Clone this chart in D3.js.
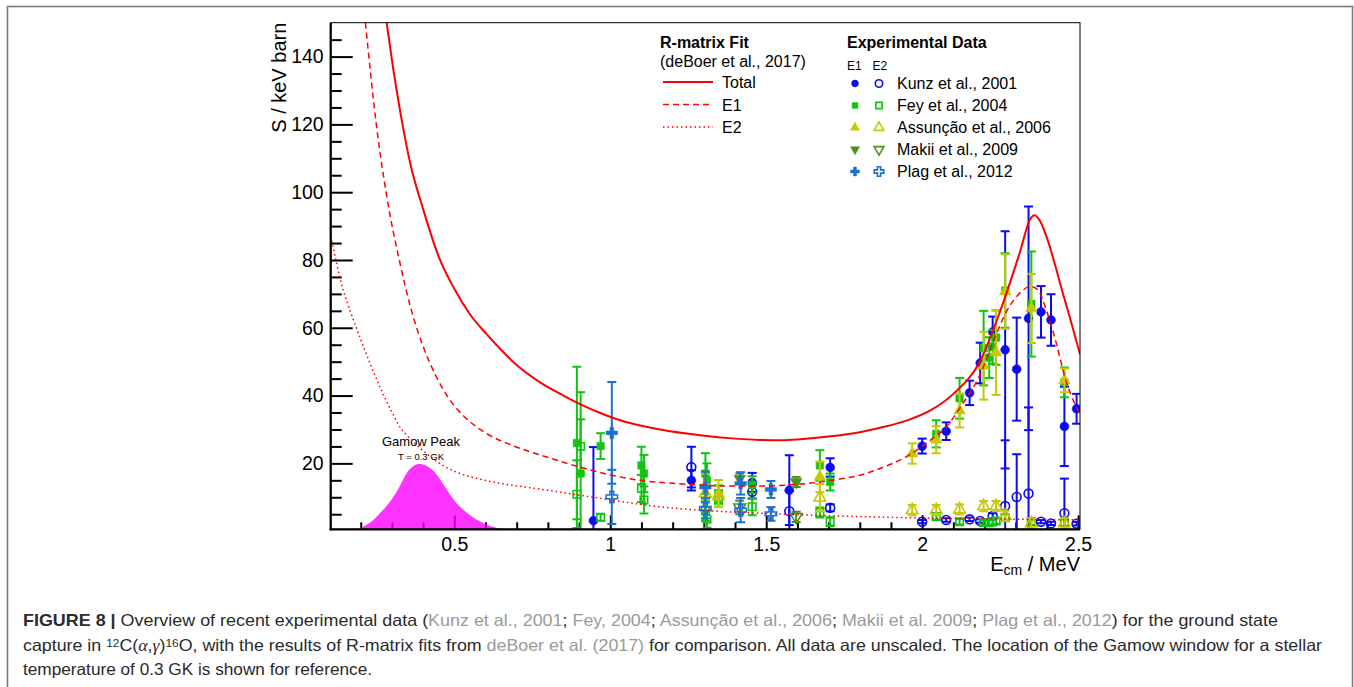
<!DOCTYPE html>
<html>
<head>
<meta charset="utf-8">
<script src="https://cdn.jsdelivr.net/npm/d3@7"></script>
<style>
body { margin: 0; background: #fff; }
svg text { font-family: "Liberation Sans", Arial, Helvetica, sans-serif; }
</style>
</head>
<body>
<div class="chart-container"></div>
<script>
// ---- R-matrix fit curves (deBoer et al., 2017), E in MeV, S in keV b ----
const totalE = [0.283, 0.30, 0.33, 0.36, 0.40, 0.45, 0.50, 0.55, 0.60, 0.65, 0.70, 0.775, 0.85, 0.903, 0.97, 1.05, 1.16, 1.288, 1.40, 1.48, 1.55, 1.61, 1.70, 1.80, 1.865, 1.95, 2.026, 2.10, 2.186, 2.25, 2.314, 2.346, 2.36, 2.378, 2.40, 2.426, 2.45, 2.474, 2.506];
const totalS = [150, 139, 122, 108, 95, 81, 71.5, 64, 58.5, 53.5, 49, 43.9, 40, 37.5, 34.8, 32.2, 30, 28.3, 27.3, 26.9, 26.8, 27.1, 27.9, 29.2, 30.5, 32.6, 35.6, 40.5, 50.2, 64.9, 82.5, 92, 93.2, 91.5, 86.5, 78.6, 70.5, 62.9, 52.2];

const e1E = [0.215, 0.25, 0.283, 0.326, 0.36, 0.40, 0.44, 0.48, 0.53, 0.60, 0.68, 0.775, 0.903, 1.0, 1.095, 1.2, 1.288, 1.40, 1.48, 1.58, 1.673, 1.75, 1.80, 1.865, 1.95, 2.026, 2.08, 2.122, 2.186, 2.229, 2.271, 2.314, 2.346, 2.37, 2.399, 2.431, 2.458, 2.495, 2.506];
const e1S = [150, 120, 99, 79, 66, 54.5, 46, 39.5, 34, 29, 25.5, 22.5, 18.9, 16.6, 15, 14.1, 13.6, 13.3, 13.3, 13.7, 14.5, 15.6, 16.5, 18.5, 22, 26.8, 31, 36.5, 46.3, 56.1, 64.9, 70.3, 72.2, 71.3, 65, 55.1, 45.3, 36.5, 34.5];

const e2E = [0.104, 0.142, 0.17, 0.198, 0.23, 0.262, 0.295, 0.326, 0.37, 0.411, 0.46, 0.518, 0.58, 0.647, 0.72, 0.775, 0.84, 0.903, 0.968, 1.06, 1.16, 1.30, 1.48, 1.65, 1.80, 2.0, 2.25, 2.506];
const e2S = [87, 71.7, 64, 57, 49.5, 42.4, 36, 30.7, 26.3, 22.9, 19.6, 17, 15.4, 14.1, 13.1, 12.4, 11.5, 10.6, 9.7, 8.4, 7.2, 6.1, 5.3, 4.7, 4.3, 3.9, 3.6, 3.3];

// ---- Gamow peak, T = 0.3 GK (arbitrary height) ----
const gamowE = [0.19, 0.23, 0.251, 0.28, 0.305, 0.33, 0.347, 0.37, 0.388, 0.41, 0.433, 0.455, 0.476, 0.50, 0.518, 0.545, 0.572, 0.60, 0.625, 0.66, 0.70];
const gamowS = [0, 2.3, 4.3, 7, 10, 14, 17.5, 19.5, 20, 19.5, 18, 15.3, 12.1, 9, 7.2, 5, 3.3, 2.1, 1.2, 0.5, 0];

// ---- Experimental data: energy, E1 (+err), E2 (+err) ----
const kunzE = [0.946, 1.26, 1.455, 1.574, 1.705, 2.0, 2.077, 2.152, 2.186, 2.226, 2.266, 2.303, 2.341, 2.381, 2.413, 2.456, 2.495];
const kunzE1 = [3.1, 15, 14.4, 12.1, 18.8, 25.1, 29.5, 40.8, 49.6, 58.8, 53.5, 47.8, 62.8, 64.7, 62.3, 30.9, 36.1];
const kunzE1Err = [21.7, 3, 2.8, 10.3, 2.7, 2.2, 2.6, 3.6, 6, 4.5, 35, 15.2, 33, 7.6, 7.6, 11.7, 4.4];
const kunzE2 = [null, 18.9, 11.6, 5.9, 6.9, 2.8, 3.3, 3.5, 3.0, 4.5, 7.4, 10.1, 11.1, 2.8, 2.3, 5.3, 2.2];
const kunzE2Err = [null, 6, 2, 6, 1, 0.5, 0.5, 0.5, 0.5, 0.8, 19.4, 12.6, 25.4, 0.5, 0.5, 10.2, 0.5];

const feyE = [0.893, 0.905, 0.969, 1.10, 1.108, 1.305, 1.31, 1.347, 1.455, 1.672, 1.705, 2.045, 2.12, 2.197, 2.215, 2.226, 2.237, 2.266, 2.35, 2.456];
const feyE1 = [26, 17, 25.1, 19.4, 17, 17, 15, 11, 13.7, 19.4, 14.5, 28.7, 39.2, 54, 51.2, 54.4, 57.1, 71, 67, 43.9];
const feyE1Err = [22.5, 24, 3.8, 5.5, 5.5, 6, 5, 2.5, 2.5, 4.5, 2.5, 4, 6, 11, 6, 5, 8, 11, 15.5, 4.4];
const feyE2 = [10.9, 25, 4.1, 12.6, 9.2, 6, 3.5, 10.1, 7.2, 5.5, 2.8, 4.3, 2.8, 2.5, 2.5, 2.7, 3, 4, 2.8, 2.5];
const feyE2Err = [10, 8, 1, 4, 4, 3, 2.5, 2, 2.5, 1.5, 1.3, 1, 0.8, 0.8, 0.8, 0.8, 0.8, 1, 1, 1];

const assuncaoE = [1.305, 1.347, 1.672, 1.968, 2.045, 2.12, 2.197, 2.237, 2.266, 2.35, 2.456];
const assuncaoE1 = [13.5, 11.1, 16, 22.9, 27, 35.6, 48.8, 52.7, 70.7, 65.7, 44.5];
const assuncaoE1Err = [3.5, 4, 4.5, 3, 4, 5, 10, 12.5, 11, 10.2, 3.5];
const assuncaoE2 = [11.2, 10.3, 9.9, 6.2, 6.2, 6.4, 7.4, 7.4, 4.5, 2.3, 2.3];
const assuncaoE2Err = [2.5, 3, 4, 1.5, 1.5, 1.5, 1.5, 1.5, 1.5, 1.5, 1.5];

const makiiE = [1.415, 1.596];
const makiiE1 = [15.5, 14.5];
const makiiE1Err = [1.5, 1.5];
const makiiE2 = [7, 4.2];
const makiiE2Err = [2, 1.5];

const plagE = [1.005, 1.305, 1.418, 1.515];
const plagE1 = [29, 13, 14.1, 12.3];
const plagE1Err = [15, 4.5, 3.3, 2.5];
const plagE2 = [10.1, 6.7, 6.2, 5.1];
const plagE2Err = [8, 3, 3.6, 2];

// ---- axis ticks ----
const yMajorTicks = [20, 40, 60, 80, 100, 120, 140];
const xMajorTicks = [0.5, 1, 1.5, 2, 2.5];

// 把每組資料整理成 {e, s, err}
function zipPoints(E, S, err) {
    return E.map((e, i) => ({ e: e, s: S[i], err: err[i] })).filter(d => d.s !== null);
}

const datasets = [
    { name: 'Kunz et al., 2001', color: '#0a0af5', marker: 'circle',
      e1: zipPoints(kunzE, kunzE1, kunzE1Err), e2: zipPoints(kunzE, kunzE2, kunzE2Err) },
    { name: 'Fey et al., 2004', color: '#10c410', marker: 'square',
      e1: zipPoints(feyE, feyE1, feyE1Err), e2: zipPoints(feyE, feyE2, feyE2Err) },
    { name: 'Assunção et al., 2006', color: '#c8c800', marker: 'triangle',
      e1: zipPoints(assuncaoE, assuncaoE1, assuncaoE1Err), e2: zipPoints(assuncaoE, assuncaoE2, assuncaoE2Err) },
    { name: 'Makii et al., 2009', color: '#4f8f1c', marker: 'triangleDown',
      e1: zipPoints(makiiE, makiiE1, makiiE1Err), e2: zipPoints(makiiE, makiiE2, makiiE2Err) },
    { name: 'Plag et al., 2012', color: '#1c6fd4', marker: 'cross',
      e1: zipPoints(plagE, plagE1, plagE1Err), e2: zipPoints(plagE, plagE2, plagE2Err) }
];

const curves = [
    { name: 'Total', dash: null, width: 2, values: totalE.map((e, i) => ({ e: e, s: totalS[i] })) },
    { name: 'E1', dash: '6,4', width: 1.5, values: e1E.map((e, i) => ({ e: e, s: e1S[i] })) },
    { name: 'E2', dash: '1.5,3', width: 1.5, values: e2E.map((e, i) => ({ e: e, s: e2S[i] })) }
];

const gamowData = gamowE.map((e, i) => ({ e: e, s: gamowS[i] }));

// caption 文字 (ref = 灰色連結)
const captionLines = [
    [['FIGURE 8 | ', 'bold'], ['Overview of recent experimental data ('], ['Kunz et al., 2001', 'ref'], ['; '],
     ['Fey, 2004', 'ref'], ['; '], ['Assunção et al., 2006', 'ref'], ['; '], ['Makii et al. 2009', 'ref'], ['; '],
     ['Plag et al., 2012', 'ref'], [') for the ground state']],
    [['capture in '], ['12', 'sup'], ['C('], ['α', 'it'], [','], ['γ', 'it'], [')'], ['16', 'sup'],
     ['O, with the results of R-matrix fits from '], ['deBoer et al. (2017)', 'ref'],
     [' for comparison. All data are unscaled. The location of the Gamow window for a stellar']],
    [['temperature of 0.3 GK is shown for reference.']]
];
const captionEnds = [1278, 1322, 372];

// 每種記號的大小 (d3.symbol 面積)
const markerSize = { circle: 62, square: 56, triangle: 60, triangleDown: 60, cross: 72 };

function markerPath(marker, size) {
    const type = {
        circle: d3.symbolCircle, square: d3.symbolSquare, triangle: d3.symbolTriangle,
        triangleDown: d3.symbolTriangle, cross: d3.symbolCross
    }[marker];
    return d3.symbol().type(type).size(size)();
}

function drawMarker(g, marker, color, filled, x, y, size) {
    const rot = marker === 'triangleDown' ? ' rotate(180)' : '';
    g.append('path')
        .attr('d', markerPath(marker, size))
        .attr('transform', `translate(${x},${y})${rot}`)
        .style('fill', filled ? color : 'none')
        .style('stroke', color)
        .style('stroke-width', filled ? 0.5 : 1.6);
}

function setupCanvas() {
    const svg_width = 1354;
    const svg_height = 687;
    const plot = { left: 330.7, right: 1080, top: 22.7, bottom: 529.3 };

    const svg = d3.select('.chart-container')
        .append('svg')
        .attr('width', svg_width).attr('height', svg_height);

    // 外框
    svg.append('rect')
        .attr('x', 7.5).attr('y', 6.5)
        .attr('width', 1345).attr('height', 720)
        .style('fill', 'none').style('stroke', '#7a7a7a').style('stroke-width', 1.6);

    const xScale = d3.scaleLinear().domain([0.1037, 2.506]).range([plot.left, plot.right]);
    const yScale = d3.scaleLinear().domain([0.55, 150]).range([plot.bottom, plot.top]);

    svg.append('clipPath').attr('id', 'plot-clip')
        .append('rect')
        .attr('x', plot.left).attr('y', plot.top)
        .attr('width', plot.right - plot.left).attr('height', plot.bottom - plot.top);

    // 刻度 (朝內)
    const xMinor = d3.range(2, 26).map(d => d / 10).filter(d => !xMajorTicks.some(t => Math.abs(t - d) < 1e-6));
    const yMinor = d3.range(5, 150, 5).filter(d => d % 20 !== 0);

    const xAxisMinor = d3.axisBottom(xScale).tickValues(xMinor).tickSize(-7).tickFormat('');
    const xAxis = d3.axisBottom(xScale).tickValues(xMajorTicks).tickSize(-14).tickPadding(8).tickFormat(d3.format('~g'));
    const yAxisMinor = d3.axisLeft(yScale).tickValues(yMinor).tickSize(-11).tickFormat('');
    const yAxis = d3.axisLeft(yScale).tickValues(yMajorTicks).tickSize(-22).tickPadding(7);

    [[xAxisMinor, 'x'], [xAxis, 'x'], [yAxisMinor, 'y'], [yAxis, 'y']].forEach(([ax, k]) => {
        const g = svg.append('g')
            .attr('class', `${k} axis`)
            .attr('transform', k === 'x' ? `translate(0,${plot.bottom})` : `translate(${plot.left},0)`)
            .call(ax);
        g.select('.domain').remove();
        g.selectAll('line').style('stroke', '#000').style('stroke-width', 2);
        g.selectAll('text').style('font-size', '19.5px').style('fill', '#000')
            .style('font-family', '"Liberation Sans", Arial, sans-serif');
    });

    // Gamow peak
    const areaGen = d3.area()
        .x(d => xScale(d.e))
        .y0(plot.bottom)
        .y1(d => Math.min(plot.bottom, yScale(d.s)))
        .curve(d3.curveBasis);
    svg.append('path')
        .attr('clip-path', 'url(#plot-clip)')
        .attr('d', areaGen(gamowData))
        .style('fill', '#ff00ff').style('fill-opacity', 0.8);

    const gamowLabel = svg.append('g').attr('class', 'gamow-label');
    gamowLabel.append('text').attr('x', 421).attr('y', 446)
        .attr('text-anchor', 'middle').style('font-size', '13px').text('Gamow Peak');
    gamowLabel.append('text').attr('x', 421).attr('y', 459.5)
        .attr('text-anchor', 'middle').style('font-size', '9.5px').text('T = 0.3 GK');

    // 實驗數據: 誤差棒 + 點
    const dataGroup = svg.append('g').attr('class', 'data').attr('clip-path', 'url(#plot-clip)');
    datasets.forEach(ds => {
        [['e2', false], ['e1', true]].forEach(([key, filled]) => {
            ds[key].forEach(p => {
                const x = xScale(p.e);
                const yTop = yScale(p.s + p.err);
                const yBot = yScale(p.s - p.err);
                dataGroup.append('line')
                    .attr('x1', x).attr('x2', x).attr('y1', yTop).attr('y2', yBot)
                    .style('stroke', ds.color).style('stroke-width', 2);
                [yTop, yBot].forEach(yc => {
                    dataGroup.append('line')
                        .attr('x1', x - 4.5).attr('x2', x + 4.5).attr('y1', yc).attr('y2', yc)
                        .style('stroke', ds.color).style('stroke-width', 2);
                });
            });
            ds[key].forEach(p => {
                drawMarker(dataGroup, ds.marker, ds.color, filled, xScale(p.e), yScale(p.s),
                    markerSize[ds.marker]);
            });
        });
    });

    // R-matrix 曲線
    const lineGen = d3.line()
        .x(d => xScale(d.e))
        .y(d => yScale(d.s))
        .curve(d3.curveMonotoneX);
    svg.append('g').attr('class', 'curves').attr('clip-path', 'url(#plot-clip)')
        .selectAll('path')
        .data(curves).enter()
        .append('path')
        .attr('d', d => lineGen(d.values))
        .style('fill', 'none')
        .style('stroke', '#ff0000')
        .style('stroke-width', d => d.width)
        .style('stroke-dasharray', d => d.dash);

    // 圖框與主軸
    svg.append('rect')
        .attr('x', plot.left).attr('y', plot.top)
        .attr('width', plot.right - plot.left).attr('height', plot.bottom - plot.top)
        .style('fill', 'none').style('stroke', '#000').style('stroke-width', 1);
    svg.append('line').attr('x1', plot.left).attr('x2', plot.left)
        .attr('y1', plot.top).attr('y2', plot.bottom + 1)
        .style('stroke', '#000').style('stroke-width', 2.2);
    svg.append('line').attr('x1', plot.left - 1).attr('x2', plot.right)
        .attr('y1', plot.bottom).attr('y2', plot.bottom)
        .style('stroke', '#000').style('stroke-width', 2.2);

    // 軸標題
    svg.append('text')
        .attr('transform', `translate(286,${plot.top}) rotate(-90)`)
        .attr('text-anchor', 'end')
        .style('font-size', '20px')
        .text('S / keV barn');
    const xTitle = svg.append('text')
        .attr('x', plot.right).attr('y', 571)
        .attr('text-anchor', 'end')
        .style('font-size', '20px');
    xTitle.append('tspan').text('E');
    xTitle.append('tspan').attr('dy', 4).style('font-size', '14px').text('cm');
    xTitle.append('tspan').attr('dy', -4).text(' / MeV');

    // 圖例: R-matrix fit
    const legFit = svg.append('g').attr('class', 'legend-fit');
    legFit.append('text').attr('x', 660).attr('y', 48).style('font-size', '16px')
        .style('font-weight', 'bold').text('R-matrix Fit');
    legFit.append('text').attr('x', 660).attr('y', 67).style('font-size', '16px')
        .text('(deBoer et al., 2017)');
    curves.forEach((c, i) => {
        const y = 82 + i * 22.5;
        legFit.append('line').attr('x1', 663).attr('x2', 713).attr('y1', y).attr('y2', y)
            .style('stroke', '#ff0000').style('stroke-width', c.width)
            .style('stroke-dasharray', c.dash);
        legFit.append('text').attr('x', 722).attr('y', y + 6).style('font-size', '16px').text(c.name);
    });

    // 圖例: experimental data
    const legData = svg.append('g').attr('class', 'legend-data');
    legData.append('text').attr('x', 847).attr('y', 48).style('font-size', '16px')
        .style('font-weight', 'bold').text('Experimental Data');
    legData.append('text').attr('x', 847).attr('y', 70).style('font-size', '12px').text('E1');
    legData.append('text').attr('x', 872.5).attr('y', 70).style('font-size', '12px').text('E2');
    datasets.forEach((ds, i) => {
        const y = 83.5 + i * 22;
        drawMarker(legData, ds.marker, ds.color, true, 855, y, markerSize[ds.marker] * 0.6);
        drawMarker(legData, ds.marker, ds.color, false, 879, y, markerSize[ds.marker] * 0.7);
        legData.append('text').attr('x', 897).attr('y', y + 5.5).style('font-size', '16px').text(ds.name);
    });

    // caption
    const cap = svg.append('g').attr('class', 'caption');
    captionLines.forEach((line, i) => {
        const t = cap.append('text')
            .attr('x', 23).attr('y', 626 + i * 24.5)
            .attr('textLength', captionEnds[i] - 23)
            .attr('lengthAdjust', 'spacingAndGlyphs')
            .style('font-size', '16.5px')
            .style('fill', '#2a2a2a');
        line.forEach(([txt, kind]) => {
            const ts = t.append('tspan').text(txt);
            if (kind === 'bold') ts.style('font-weight', 'bold');
            if (kind === 'ref') ts.style('fill', '#9a9a9a');
            if (kind === 'it') ts.style('font-style', 'italic').style('font-family', '"Liberation Serif", serif');
            if (kind === 'sup') ts.attr('baseline-shift', '40%').style('font-size', '11px');
        });
    });
}

setupCanvas();
</script>
</body>
</html>
